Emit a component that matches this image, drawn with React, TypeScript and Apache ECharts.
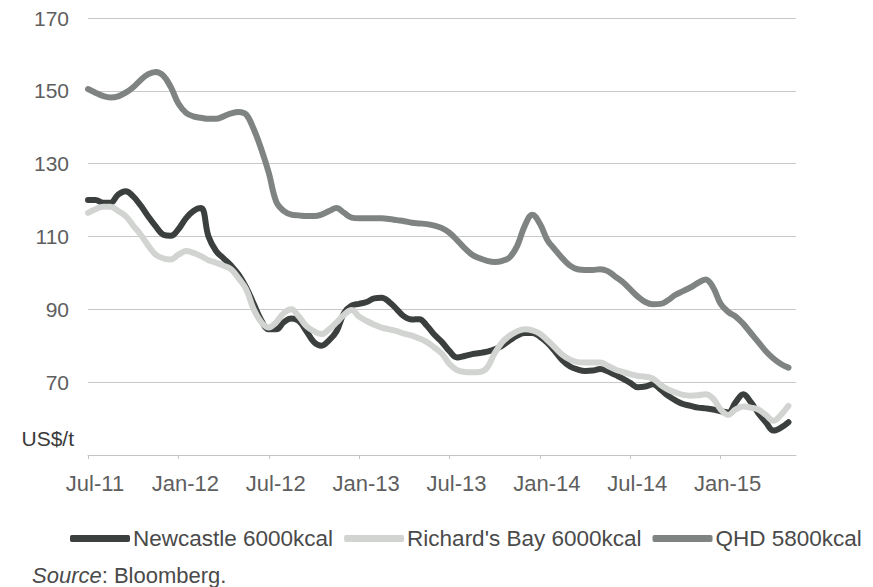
import React, { useEffect, useRef } from "react";
import * as echarts from "echarts";

// Half-monthly coal prices (US$/t), first point = Jul-2011, step = half a month
const newcastle = [
  120, 120, 119.3, 119.3, 121.5, 122.4, 121, 118.5, 115.5, 112.8,
  110.5, 110.2, 112, 115, 117, 117.8, 110, 106, 104, 102,
  99.5, 96, 91.5, 87, 84.5, 84.5, 86.5, 87.5, 86.8, 84,
  81, 80, 81.5, 84, 89, 91, 91.5, 92, 93, 93.2,
  92, 90, 88, 87.2, 87.3, 85.5, 83, 81, 78.5, 76.8,
  77.2, 77.7, 78, 78.4, 79, 80, 81.5, 82.8, 83.5, 83.5,
  82.5, 80.8, 78.5, 76, 74.3, 73.5, 73.1, 73.2, 73.6, 73,
  72, 71, 69.8, 68.6, 68.8, 69.4, 68, 66.3, 65, 64,
  63.5, 63, 62.8, 62.5, 62, 61.7, 64.5, 66.7, 64.5, 61.5,
  59, 56.7, 57.5, 59,
];

const richardsBay = [
  116.5, 117.5, 118.2, 118.2, 117, 115.6, 113, 110.5, 107.5, 105,
  104, 103.7, 105, 106, 105.5, 104.6, 103.5, 102.8, 102, 101,
  98.5, 95.5, 90, 86.5, 85, 86.5, 89, 90, 88, 85.4,
  84, 83.2, 84.5, 86.4, 88.5, 89.8, 88, 86.8, 85.8, 85,
  84.5, 84, 83.3, 82.8, 82, 81, 79.5, 77.8, 75, 73.3,
  72.8, 72.7, 72.8, 74, 78, 81, 82.8, 84, 84.5, 84.2,
  83.3, 81.5, 79.5, 77.5, 76.2, 75.5, 75.4, 75.4, 75.4, 74.5,
  73.5, 72.8, 72.2, 71.7, 71.5, 71, 69.3, 68, 67.2, 66.5,
  66.3, 66.4, 66.7, 65.5, 62.5, 61, 62.5, 63.3, 63, 62.5,
  61, 59.4, 61, 63.5,
];

const qhd = [
  150.5, 149.5, 148.6, 148.2, 148.5, 149.5, 151, 153, 154.6, 155.2,
  154.2, 151, 146.5, 144, 143, 142.6, 142.3, 142.3, 143, 143.8,
  144.2, 143.5, 139.5, 134, 127.5, 119.5, 117, 116, 115.8, 115.6,
  115.6, 116, 117, 117.8, 116.5, 115.2, 115, 115, 115, 115,
  114.8, 114.5, 114.2, 113.8, 113.6, 113.4, 113, 112.3, 111, 109,
  106.8, 105, 104, 103.3, 103, 103.3, 104.3, 107.5, 113, 116,
  113.5, 109, 106.4, 104, 102, 101, 100.8, 100.8, 101, 100.5,
  99, 97.5, 95.5, 93.5, 92, 91.4, 91.5, 92.5, 94, 95,
  96, 97.3, 98.2, 96, 91.5, 89.3, 88, 86, 83.5, 81,
  78.5, 76.5, 75, 74,
];

// Axis ticks every six months, counted in months from Jul-2011
const tickLabels = ["Jul-11", "Jan-12", "Jul-12", "Jan-13", "Jul-13", "Jan-14", "Jul-14", "Jan-15"];
const tickMonths = [0, 6, 12, 18, 24, 30, 36, 42];
const yTicks = [50, 70, 90, 110, 130, 150, 170];

const seriesNames = ["Newcastle 6000kcal", "Richard's Bay 6000kcal", "QHD 5800kcal"];
const seriesColors = ["#3b3f3e", "#d2d4d2", "#7f8482"];

const FONT = "'Liberation Sans', Arial, sans-serif";
const LABEL_COLOR = "#5e5e5e";

const toPairs = (values: number[]) => values.map((v, i) => [i / 2, v]);

export default function App() {
  const ref = useRef<HTMLDivElement>(null);

  useEffect(() => {
    if (!ref.current) return;
    const chart = echarts.init(ref.current, undefined, { renderer: "svg" });
    const allData = [newcastle, richardsBay, qhd];

    chart.setOption({
      animation: false,
      backgroundColor: "#ffffff",
      color: seriesColors,
      grid: { left: 88, right: 77, top: 18, bottom: 132, containLabel: false },
      xAxis: {
        type: "value",
        min: 0,
        max: 47,
        axisLine: { show: true, lineStyle: { color: "#c4c4c4", width: 1 } },
        axisTick: {
          show: true,
          customValues: tickMonths,
          length: 4,
          lineStyle: { color: "#c4c4c4" },
        },
        axisLabel: {
          customValues: tickMonths,
          formatter: (v: number) => tickLabels[Math.round(v / 6)] ?? "",
          color: LABEL_COLOR,
          fontSize: 22,
          fontFamily: FONT,
          margin: 17,
          padding: [0, 0, 0, 14],
        },
        splitLine: { show: false },
      },
      yAxis: {
        type: "value",
        min: yTicks[0],
        max: yTicks[yTicks.length - 1],
        interval: 20,
        axisLine: { show: false },
        axisTick: { show: false },
        axisLabel: {
          formatter: (v: number) => (v === 50 ? "" : String(v)),
          color: LABEL_COLOR,
          fontSize: 21,
          fontFamily: FONT,
          margin: 19,
        },
        splitLine: { show: true, lineStyle: { color: "#c8c8c8", width: 1 } },
      },
      legend: {
        left: 70,
        top: 527,
        padding: 0,
        itemWidth: 60,
        itemHeight: 7,
        itemGap: 11,
        icon: "roundRect",
        textStyle: { color: "#4a4a4a", fontSize: 22.5, fontFamily: FONT, padding: [0, 0, 0, -2] },
        data: seriesNames,
      },
      series: seriesNames.map((name, i) => ({
        name,
        type: "line",
        data: toPairs(allData[i]),
        smooth: 0.4,
        showSymbol: false,
        symbol: "none",
        lineStyle: { width: 6, color: seriesColors[i], cap: "round", join: "round" },
        itemStyle: { color: seriesColors[i] },
        z: 2 + i,
      })),
      graphic: [
        {
          type: "text",
          x: 74,
          y: 438,
          style: {
            text: "US$/t",
            align: "right",
            verticalAlign: "middle",
            fill: "#3a3a3a",
            fontSize: 21,
            fontFamily: FONT,
          },
        },
        {
          type: "text",
          x: 32,
          y: 575,
          style: {
            text: "{i|Source}: Bloomberg.",
            verticalAlign: "middle",
            fill: "#4a4a4a",
            fontSize: 22,
            fontFamily: FONT,
            rich: {
              i: { fontStyle: "italic", fontSize: 22, fontFamily: FONT, fill: "#4a4a4a" },
            },
          },
        },
      ],
    });

    return () => chart.dispose();
  }, []);

  return <div ref={ref} style={{ width: 873, height: 587, position: "absolute", left: 0, top: 0 }} />;
}
